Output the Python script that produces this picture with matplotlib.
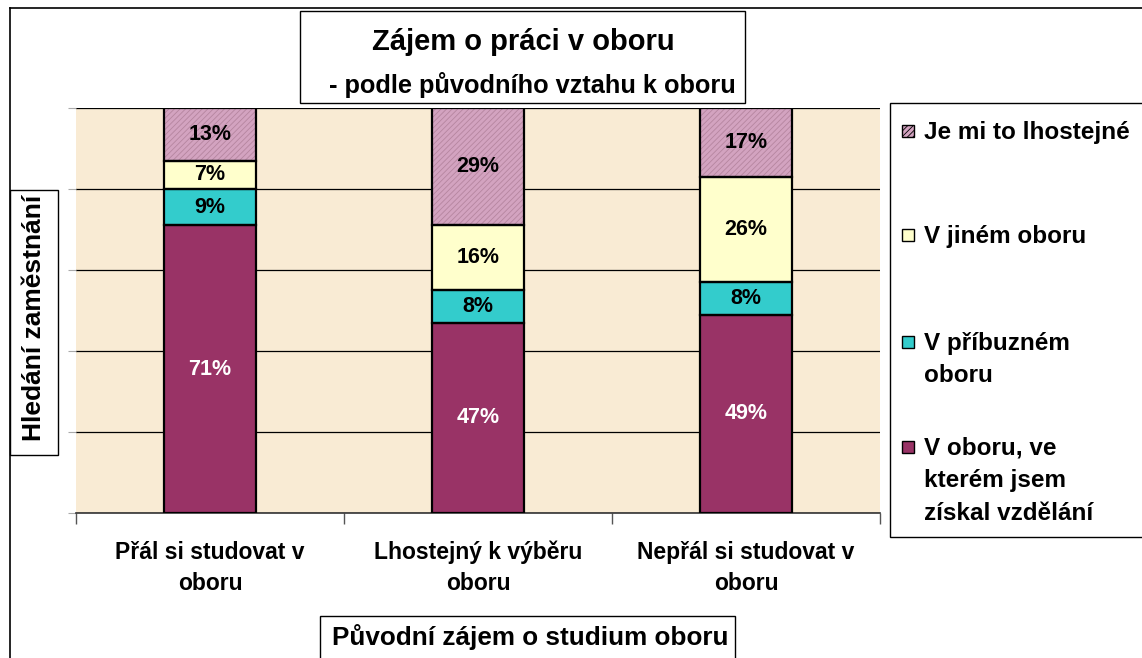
import matplotlib
matplotlib.use("Agg")
import matplotlib.pyplot as plt
from matplotlib.patches import Rectangle
import numpy as np

plt.rcParams['font.family'] = ['Liberation Sans', 'DejaVu Sans']
plt.rcParams['font.weight'] = 'bold'
plt.rcParams['hatch.linewidth'] = 0.6

categories = [["Přál si studovat v", "oboru"], ["Lhostejný k výběru", "oboru"], ["Nepřál si studovat v", "oboru"]]
series_names = [["V oboru, ve", "kterém jsem", "získal vzdělání"], ["V příbuzném", "oboru"], ["V jiném oboru"], ["Je mi to lhostejné"]]
v_oboru = [71, 47, 49]
v_pribuznem = [9, 8, 8]
v_jinem = [7, 16, 26]
lhostejne = [13, 29, 17]
series = [v_oboru, v_pribuznem, v_jinem, lhostejne]
colors = ["#993366", "#33CCCC", "#FFFFCC", "#D3A3C0"]
label_colors = ["white", "black", "black", "black"]
title = "Zájem o práci v oboru"
subtitle = "- podle původního vztahu k oboru"
ylabel = "Hledání zaměstnání"
xlabel = "Původní zájem o studium oboru"

W, H = 1142, 658
fig = plt.figure(figsize=(W / 100, H / 100), dpi=100)
fig.patch.set_facecolor("white")

def fx(x):
    return x / W

def fy(y):
    return 1 - y / H

# outer chart border
fig.add_artist(plt.Line2D([fx(10), fx(10)], [fy(8), fy(660)], color="black", lw=1.2, transform=fig.transFigure))
fig.add_artist(plt.Line2D([fx(10), fx(1145)], [fy(8), fy(8)], color="black", lw=1.2, transform=fig.transFigure))

L, R, T, B = 76, 880, 108, 513
ax = fig.add_axes([fx(L), fy(B), fx(R) - fx(L), fy(T) - fy(B)])
ax.set_facecolor("#F9EBD4")
ax.set_xlim(0, 3)
ax.set_ylim(0, 100)

ax.set_yticks(np.arange(0, 101, 20))
ax.set_yticklabels([])
ax.tick_params(axis="y", length=6, color="#aaaaaa", width=0.8)
ax.yaxis.grid(True, color="black", lw=0.9)
ax.set_axisbelow(True)

ax.set_xticks([0, 1, 2, 3])
ax.set_xticklabels([])
ax.tick_params(axis="x", length=8, color="#555555", width=1)

for s in ["top", "left", "right"]:
    ax.spines[s].set_visible(False)
ax.spines["bottom"].set_color("#333333")
ax.spines["bottom"].set_linewidth(1.2)

def ay(ypix):
    return (B - ypix) / (B - T)

x = np.arange(3) + 0.5
for xi, lines in zip(x, categories):
    for k, line in enumerate(lines):
        ax.text(xi, ay(559 + 31 * k), line, transform=ax.get_xaxis_transform(),
                ha="center", va="baseline", fontsize=16.5, fontweight="bold", clip_on=False)

width = 0.343
bottom = np.zeros(3)
for i, (vals, c) in enumerate(zip(series, colors)):
    vals = np.array(vals, dtype=float)
    if i == 3:
        ax.bar(x, vals, width, bottom=bottom, color=c, edgecolor="#B5859F",
               hatch="//////", linewidth=0, zorder=3)
    else:
        ax.bar(x, vals, width, bottom=bottom, color=c, linewidth=0, zorder=3)
    ax.bar(x, vals, width, bottom=bottom, fill=False, edgecolor="black", linewidth=1.6, zorder=4)
    for xi, b, v in zip(x, bottom, vals):
        ax.text(xi, b + v / 2, f"{int(v)}%", ha="center", va="center",
                fontsize=15.5, fontweight="bold", color=label_colors[i], zorder=5)
    bottom += vals

# title box
fig.add_artist(Rectangle((fx(300), fy(103)), fx(745) - fx(300), fy(11) - fy(103),
                         transform=fig.transFigure, facecolor="white", edgecolor="black", lw=1))
fig.text(fx(523), fy(50), title, ha="center", va="baseline", fontsize=21, fontweight="bold")
fig.text(fx(532), fy(93), subtitle, ha="center", va="baseline", fontsize=18.3, fontweight="bold")

# y label box
fig.add_artist(Rectangle((fx(10), fy(455)), fx(58) - fx(10), fy(190) - fy(455),
                         transform=fig.transFigure, facecolor="white", edgecolor="black", lw=1))
fig.text(fx(34), fy(318), ylabel, ha="center", va="center", rotation=90, fontsize=19, fontweight="bold")

# x label box
fig.add_artist(Rectangle((fx(320), fy(665)), fx(735) - fx(320), fy(616) - fy(665),
                         transform=fig.transFigure, facecolor="white", edgecolor="black", lw=1))
fig.text(fx(530), fy(645), xlabel, ha="center", va="baseline", fontsize=18.8, fontweight="bold")

# legend box
fig.add_artist(Rectangle((fx(890), fy(537)), fx(1150) - fx(890), fy(103) - fy(537),
                         transform=fig.transFigure, facecolor="white", edgecolor="black", lw=1))
legend_order = [3, 2, 1, 0]
leg_base = [139, 243, 350, 455]
for idx, yb in zip(legend_order, leg_base):
    sq = Rectangle((fx(902), fy(yb - 2)), fx(12), 12 / H, transform=fig.transFigure,
                   facecolor=colors[idx], edgecolor="black", lw=1,
                   hatch="//////" if idx == 3 else None)
    fig.add_artist(sq)
    for k, line in enumerate(series_names[idx]):
        fig.text(fx(924), fy(yb + 32.5 * k), line, ha="left", va="baseline",
                 fontsize=17.5, fontweight="bold")

fig.savefig("out.png", dpi=100, facecolor="white")
